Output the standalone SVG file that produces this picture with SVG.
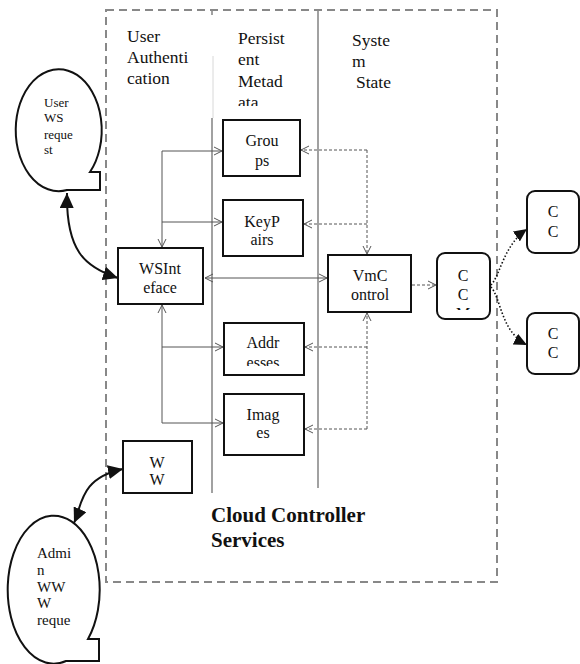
<svg xmlns="http://www.w3.org/2000/svg" width="580" height="664" viewBox="0 0 580 664">
  <style>
    text { font-family: "Liberation Serif", "Times New Roman", serif; fill: #111; }
    .hdr { font-size: 17.5px; }
    .lbl { font-size: 16px; text-anchor: middle; }
    .bub { font-size: 13px; }
    .title { font-size: 21px; font-weight: bold; }
    .box { fill: #fff; stroke: #111; stroke-width: 2; }
    .bubble { fill: #fff; stroke: #111; stroke-width: 2; }
    .lane { stroke: #8a8a8a; stroke-width: 1.6; fill: none; }
    .solid { stroke: #555; stroke-width: 1; fill: none; }
    .dash { stroke: #555; stroke-width: 1; stroke-dasharray: 3 2; fill: none; }
    .dot { stroke: #111; stroke-width: 1.6; stroke-dasharray: 1.5 2; fill: none; }
    .thick { stroke: #111; stroke-width: 2; fill: none; }
  </style>
  <defs>
    <marker id="open" markerUnits="userSpaceOnUse" markerWidth="10" markerHeight="10" refX="9" refY="5" orient="auto-start-reverse">
      <path d="M1,1 L9,5 L1,9" fill="none" stroke="#555" stroke-width="1"/>
    </marker>
    <marker id="solidHead" markerUnits="userSpaceOnUse" markerWidth="16" markerHeight="14" refX="15" refY="7" orient="auto-start-reverse">
      <path d="M0,0 L15,7 L0,14 Z" fill="#111"/>
    </marker>
    <marker id="dotHead" markerUnits="userSpaceOnUse" markerWidth="14" markerHeight="12" refX="13" refY="6" orient="auto">
      <path d="M0,0 L13,6 L0,12 Z" fill="#111"/>
    </marker>
    <clipPath id="clipMeta"><rect x="230" y="20" width="80" height="86"/></clipPath>
    <clipPath id="clipAddr"><rect x="225" y="324" width="78" height="42"/></clipPath>
    <clipPath id="clipCcm"><rect x="438" y="254" width="51" height="56"/></clipPath>
  </defs>

  <!-- service boundary -->
  <rect x="106" y="10" width="391" height="572" fill="none" stroke="#888" stroke-width="2" stroke-dasharray="8 5"/>

  <!-- lane separators -->
  <g id="lanes">
    <line class="lane" x1="212" y1="10" x2="212" y2="15"/>
    <line x1="213" y1="56" x2="213" y2="118" stroke="#d8d8d8" stroke-width="1"/>
    <line class="lane" x1="212" y1="118" x2="212" y2="493"/>
    <line class="lane" x1="318" y1="10" x2="318" y2="488"/>
  </g>

  <!-- lane headings -->
  <g id="headings">
    <text class="hdr" x="127" y="42">User</text>
    <text class="hdr" x="127" y="63">Authenti</text>
    <text class="hdr" x="127" y="84">cation</text>
    <g clip-path="url(#clipMeta)">
      <text class="hdr" x="238" y="44">Persist</text>
      <text class="hdr" x="238" y="65">ent</text>
      <text class="hdr" x="238" y="87">Metad</text>
      <text class="hdr" x="238" y="108">ata</text>
    </g>
    <text class="hdr" x="352" y="46">Syste</text>
    <text class="hdr" x="352" y="67">m</text>
    <text class="hdr" x="356" y="88">State</text>
  </g>

  <!-- connectors -->
  <g id="connectors">
    <!-- WS interface to metadata stores -->
    <path class="solid" d="M162,151 V247" marker-end="url(#open)"/>
    <path class="solid" d="M162,151 H222" marker-end="url(#open)"/>
    <path class="solid" d="M162,222 H222" marker-end="url(#open)"/>
    <path class="solid" d="M162,423 V305" marker-end="url(#open)"/>
    <path class="solid" d="M162,347 H223" marker-end="url(#open)"/>
    <path class="solid" d="M162,423 H223" marker-end="url(#open)"/>
    <path class="solid" d="M205,278 H327" marker-start="url(#open)" marker-end="url(#open)"/>
    <!-- VM control to metadata stores -->
    <path class="dash" d="M367,150 V254" marker-end="url(#open)"/>
    <path class="dash" d="M367,150 H301" marker-end="url(#open)"/>
    <path class="dash" d="M367,224 H304" marker-end="url(#open)"/>
    <path class="dash" d="M367,429 V313" marker-end="url(#open)"/>
    <path class="dash" d="M367,347 H305" marker-end="url(#open)"/>
    <path class="dash" d="M367,429 H305" marker-end="url(#open)"/>
    <path class="dash" d="M412,285 H436" marker-end="url(#open)"/>
    <!-- CCM to cluster controllers -->
    <path class="dot" d="M491,285 C501,274 503,246 527,229" marker-end="url(#dotHead)"/>
    <path class="dot" d="M491,287 C501,298 501,332 527,345" marker-end="url(#dotHead)"/>
    <!-- client requests -->
    <path class="thick" d="M67,193 C66,250 84,267 118,278" marker-start="url(#solidHead)" marker-end="url(#solidHead)"/>
    <path class="thick" d="M74,523 C82,505 80,478 123,469" marker-start="url(#solidHead)" marker-end="url(#solidHead)"/>
  </g>

  <!-- nodes -->
  <g id="user-ws-request">
    <path class="bubble" d="M67,190 A43 61 0 1 1 90,172 L100,172 L100,190 Z"/>
    <text class="bub" x="44" y="107">User</text>
    <text class="bub" x="44" y="122">WS</text>
    <text class="bub" x="44" y="139">reque</text>
    <text class="bub" x="44" y="154">st</text>
  </g>

  <g id="admin-www-request">
    <path class="bubble" d="M66,661 A46 74 0 1 1 88,639 L99,639 L99,661 Z"/>
    <text class="bub" style="font-size:15px" x="37" y="558">Admi</text>
    <text class="bub" style="font-size:15px" x="37" y="575">n</text>
    <text class="bub" style="font-size:15px" x="37" y="592">WW</text>
    <text class="bub" style="font-size:15px" x="37" y="608">W</text>
    <text class="bub" style="font-size:15px" x="37" y="625">reque</text>
  </g>

  <g id="ws-interface">
    <rect class="box" x="118" y="248" width="85" height="56"/>
    <text class="lbl" x="160" y="274">WSInt</text>
    <text class="lbl" x="160" y="293">eface</text>
  </g>

  <g id="www">
    <rect class="box" x="123" y="441" width="69" height="52"/>
    <text class="lbl" x="157" y="468">W</text>
    <text class="lbl" x="157" y="485">W</text>
  </g>

  <g id="groups">
    <rect class="box" x="223" y="120" width="77" height="56"/>
    <text class="lbl" x="262" y="146">Grou</text>
    <text class="lbl" x="262" y="166">ps</text>
  </g>

  <g id="keypairs">
    <rect class="box" x="223" y="200" width="80" height="56"/>
    <text class="lbl" x="262" y="227">KeyP</text>
    <text class="lbl" x="262" y="245">airs</text>
  </g>

  <g id="addresses">
    <rect class="box" x="224" y="323" width="80" height="52"/>
    <g clip-path="url(#clipAddr)">
      <text class="lbl" x="263" y="348">Addr</text>
      <text class="lbl" x="263" y="368">esses</text>
    </g>
  </g>

  <g id="images">
    <rect class="box" x="224" y="394" width="80" height="61"/>
    <text class="lbl" x="263" y="420">Imag</text>
    <text class="lbl" x="263" y="438">es</text>
  </g>

  <g id="vm-control">
    <rect class="box" x="328" y="255" width="83" height="57"/>
    <text class="lbl" x="370" y="281">VmC</text>
    <text class="lbl" x="370" y="300">ontrol</text>
  </g>

  <g id="ccm">
    <rect class="box" x="437" y="253" width="53" height="66" rx="8"/>
    <g clip-path="url(#clipCcm)">
      <text class="lbl" x="463" y="281">C</text>
      <text class="lbl" x="463" y="300">C</text>
      <text class="lbl" x="463" y="319">M</text>
    </g>
  </g>

  <g id="cc-top">
    <rect class="box" x="527" y="191" width="52" height="62" rx="8"/>
    <text class="lbl" x="553" y="217">C</text>
    <text class="lbl" x="553" y="237">C</text>
  </g>

  <g id="cc-bottom">
    <rect class="box" x="527" y="313" width="52" height="61" rx="8"/>
    <text class="lbl" x="553" y="339">C</text>
    <text class="lbl" x="553" y="358">C</text>
  </g>

  <g id="caption">
    <text class="title" x="211" y="522">Cloud Controller</text>
    <text class="title" x="211" y="547">Services</text>
  </g>
</svg>
